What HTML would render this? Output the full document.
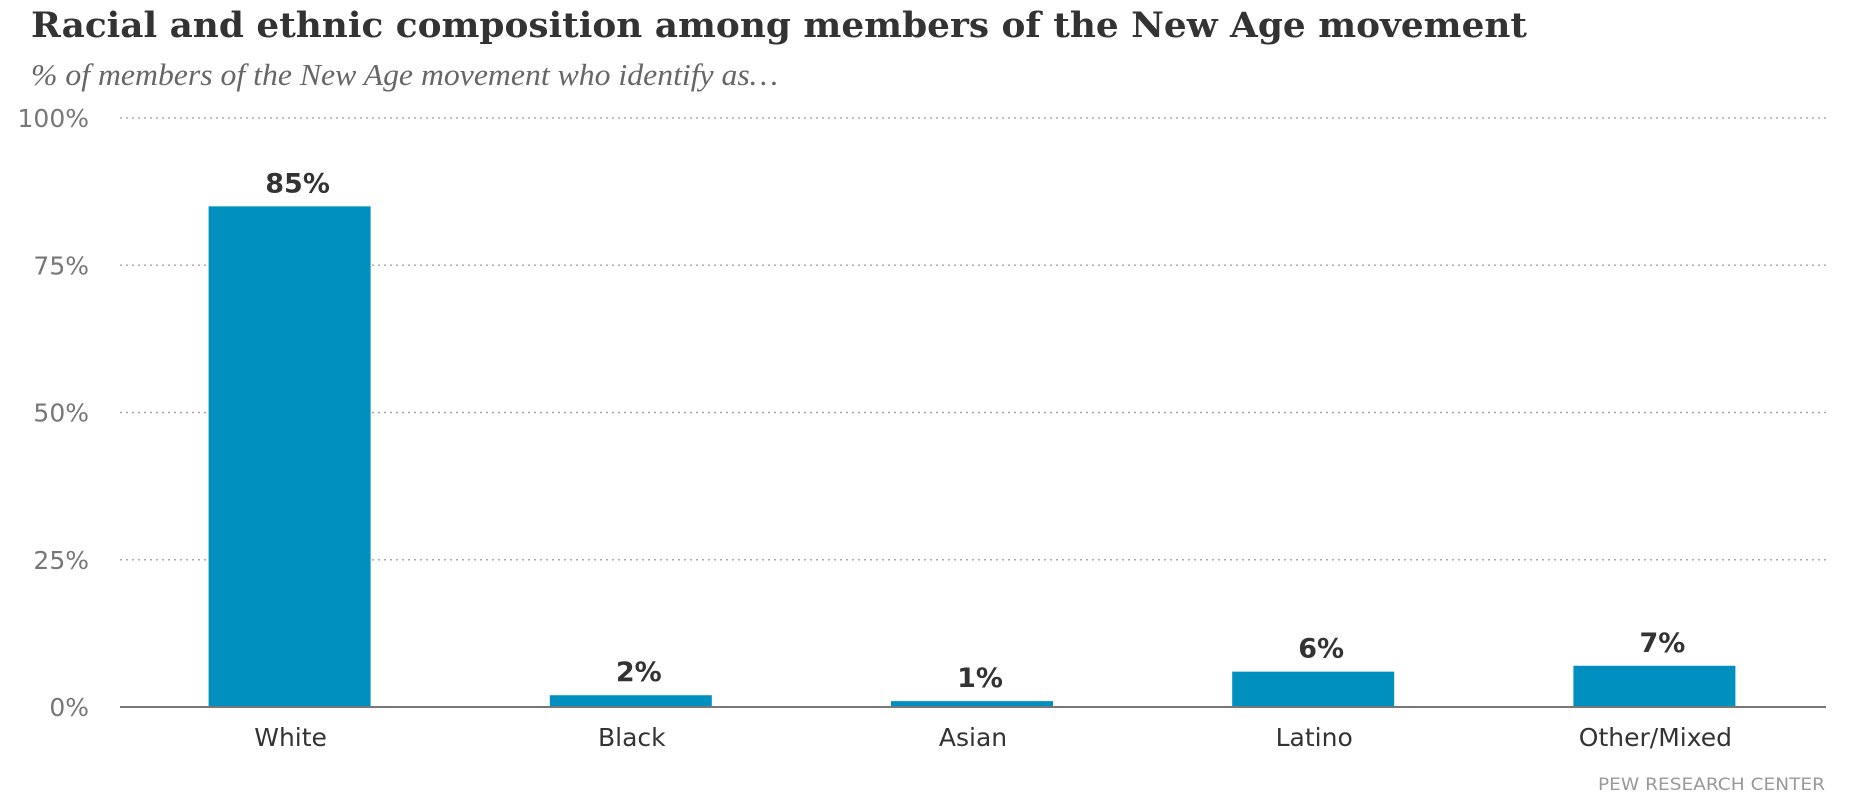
<!DOCTYPE html>
<html><head><meta charset="utf-8"><style>
html,body{margin:0;padding:0;background:#fff;}
svg{display:block;}
</style></head><body>
<svg id="chart" width="1856" height="800" viewBox="0 0 1856 800">
<text x="31" y="37" font-family="'DejaVu Serif','Liberation Serif',serif" font-weight="bold" font-size="35" fill="#333" textLength="1496" lengthAdjust="spacingAndGlyphs">Racial and ethnic composition among members of the New Age movement</text>
<text x="31" y="85" font-family="'Liberation Serif',serif" font-style="italic" font-size="31" fill="#666" textLength="747" lengthAdjust="spacingAndGlyphs">% of members of the New Age movement who identify as…</text>
<g id="grid"></g>
<g id="bars"></g>
<line x1="120" y1="707" x2="1826" y2="707" stroke="#777" stroke-width="2"/>
<text x="1825" y="790" text-anchor="end" font-family="'DejaVu Sans','Liberation Sans',sans-serif" font-size="17" fill="#999" textLength="227" lengthAdjust="spacingAndGlyphs">PEW RESEARCH CENTER</text>
</svg>
<script>
const categories = ["White","Black","Asian","Latino","Other/Mixed"];
const values = [85,2,1,6,7];
const valueLabels = ["85%","2%","1%","6%","7%"];
const ticks = [0,25,50,75,100];
const tickLabels = ["0%","25%","50%","75%","100%"];

const NS="http://www.w3.org/2000/svg";
const plotLeft=120,plotRight=1826,plotTop=118,plotBottom=707;
const yScale=v=>plotBottom-(v/100)*(plotBottom-plotTop);
const band=(plotRight-plotLeft)/categories.length;
const bw=162;
const xc=i=>plotLeft+band*(i+0.5);
const grid=document.getElementById('grid');
const bars=document.getElementById('bars');
function mk(tag,attrs,parent){const e=document.createElementNS(NS,tag);for(const k in attrs)e.setAttribute(k,attrs[k]);parent.appendChild(e);return e;}
ticks.forEach((t,i)=>{
  if(t>0){
    const l=mk('line',{x1:plotLeft,x2:plotRight,y1:yScale(t),y2:yScale(t),stroke:'#aaa','stroke-width':1.5,'stroke-dasharray':'2,4'},grid);
    
    
  }
  const tx=mk('text',{x:89,y:yScale(t)+9,'text-anchor':'end','font-family':"'DejaVu Sans','Liberation Sans',sans-serif",'font-size':25,fill:'#777'},grid);
  tx.textContent=tickLabels[i];
  
  
});
categories.forEach((c,i)=>{
  const key=c.toLowerCase().replace('/','-');
  const r=mk('rect',{x:xc(i)-bw/2-1,y:yScale(values[i]),width:bw,height:plotBottom-yScale(values[i]),fill:'#0090c0'},bars);
  
  
  const v=mk('text',{x:xc(i)+7,y:yScale(values[i])-14,'text-anchor':'middle','font-family':"'DejaVu Sans','Liberation Sans',sans-serif",'font-weight':'bold','font-size':27,fill:'#333'},bars);
  v.textContent=valueLabels[i];
  
  
  const cl=mk('text',{x:xc(i),y:746,'text-anchor':'middle','font-family':"'DejaVu Sans','Liberation Sans',sans-serif",'font-size':25,fill:'#333'},bars);
  cl.textContent=c;
  
  
});
</script>
</body></html>
